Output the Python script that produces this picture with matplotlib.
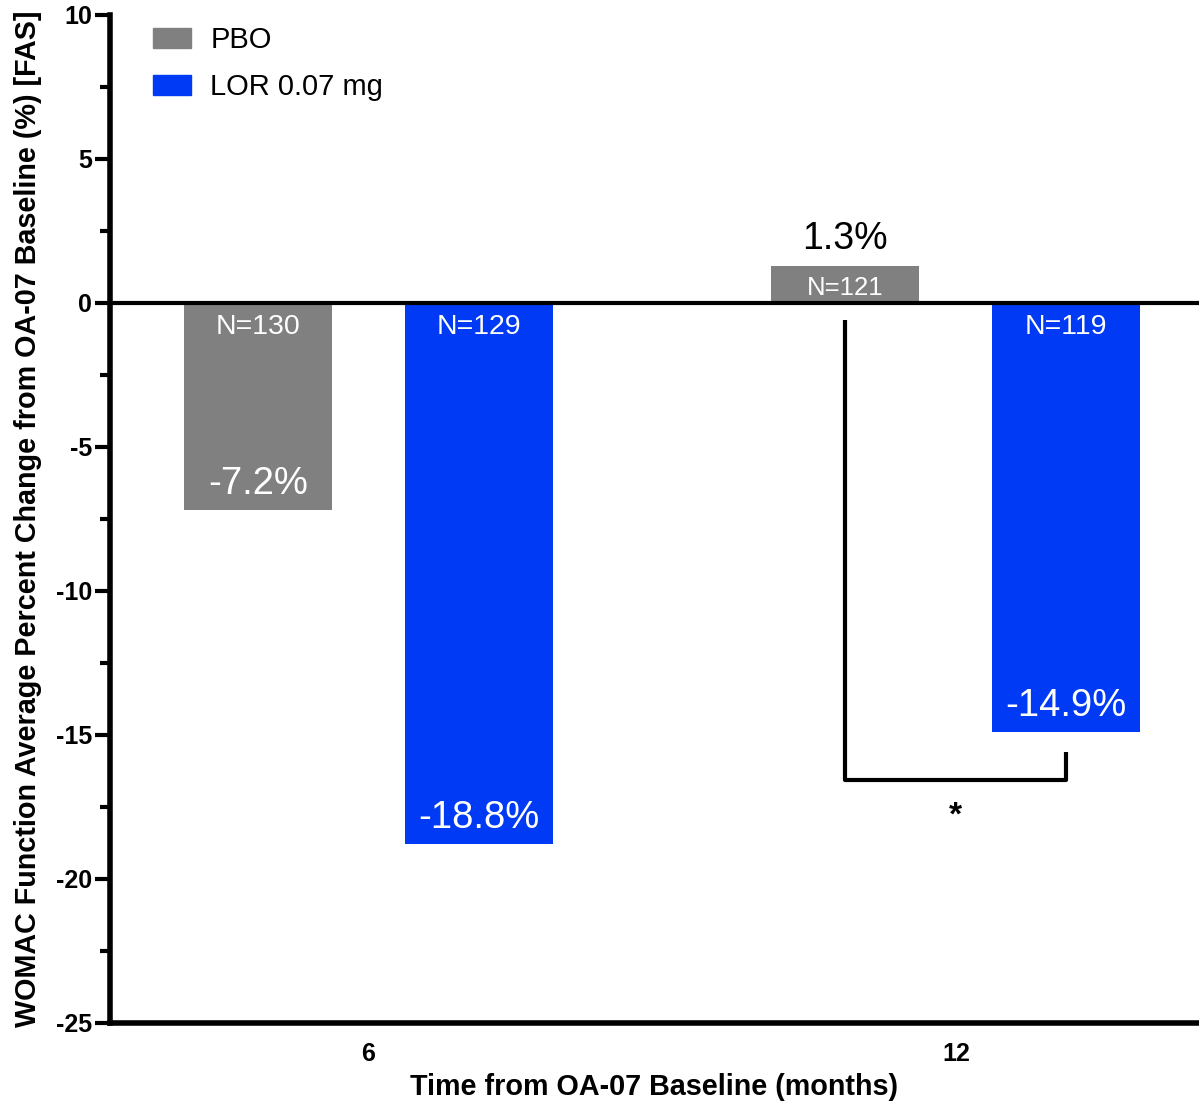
import matplotlib
matplotlib.use("Agg")
import matplotlib.pyplot as plt
from matplotlib.patches import Patch
import numpy as np

plt.rcParams['font.family'] = ['Liberation Sans', 'DejaVu Sans']
plt.rcParams['axes.unicode_minus'] = False

categories = ["6", "12"]
series_names = ["PBO", "LOR 0.07 mg"]
pbo_values = [-7.2, 1.3]
lor_values = [-18.8, -14.9]
pbo_n = ["N=130", "N=121"]
lor_n = ["N=129", "N=119"]
yticks = [10, 5, 0, -5, -10, -15, -20, -25]

colors = ["#808080", "#003AF5"]

fig = plt.figure(figsize=(11.99, 11.03), dpi=100)
ax = fig.add_axes([110/1199, 80/1103, 1089/1199, 1008/1103])

x = np.arange(len(categories))
off = 0.188
w = 0.252
b1 = ax.bar(x - off, pbo_values, w, color=colors[0], zorder=2)
b2 = ax.bar(x + off, lor_values, w, color=colors[1], zorder=2)

ax.set_xlim(-0.44, 1.414)
ax.set_ylim(-25, 10)
ax.axhline(0, color="black", lw=3, zorder=3)

for bars, vals, ns in [(b1, pbo_values, pbo_n), (b2, lor_values, lor_n)]:
    for bar, v, n in zip(bars, vals, ns):
        cx = bar.get_x() + bar.get_width() / 2
        if v < 0:
            ax.annotate(n, (cx, 0), xytext=(0, -17), textcoords="offset points",
                        ha="center", va="center", color="white", fontsize=20.5, zorder=4)
            ax.annotate(f"{v}%", (cx, v), xytext=(0, 19), textcoords="offset points",
                        ha="center", va="center", color="white", fontsize=27.5, zorder=4)
        else:
            ax.annotate(n, (cx, 0), xytext=(0, 11), textcoords="offset points",
                        ha="center", va="center", color="white", fontsize=18.5, zorder=4)
            ax.annotate(f"{v}%", (cx, v), xytext=(0, 19), textcoords="offset points",
                        ha="center", va="center", color="black", fontsize=27, zorder=4)

# significance bracket
xl = x[1] - off
xr = x[1] + off
ax.plot([xl, xl, xr, xr], [-0.6, -16.55, -16.55, -15.6], color="black", lw=3,
        solid_capstyle="butt", zorder=3)
ax.text((xl + xr) / 2, -17.8, "*", ha="center", va="center", fontsize=24,
        fontweight="bold")

for s in ["top", "right"]:
    ax.spines[s].set_visible(False)
ax.spines["left"].set_linewidth(4)
ax.spines["bottom"].set_linewidth(4)

ax.set_yticks(yticks)
ax.set_yticks(np.arange(-25, 10.1, 2.5), minor=True)
ax.tick_params(axis="y", which="major", length=11, width=3, labelsize=18, pad=2)
ax.tick_params(axis="y", which="minor", length=7, width=3)
ax.set_xticks(x)
ax.set_xticklabels(categories)
ax.tick_params(axis="x", length=0, labelsize=18, pad=14)
for lab in ax.get_yticklabels() + ax.get_xticklabels():
    lab.set_fontweight("bold")

ax.set_ylabel("WOMAC Function Average Percent Change from OA-07 Baseline (%) [FAS]",
              fontsize=20.7, fontweight="bold", labelpad=10)
ax.set_xlabel("Time from OA-07 Baseline (months)", fontsize=20.7, fontweight="bold",
              labelpad=5)

handles = [Patch(color=c, label=l) for c, l in zip(colors, series_names)]
ax.legend(handles=handles, loc="upper left", bbox_to_anchor=(0.015, 1.015),
          frameon=False, fontsize=21, handlelength=1.3, handleheight=0.65,
          labelspacing=0.65, handletextpad=0.68)

fig.savefig("out.png", dpi=100)
